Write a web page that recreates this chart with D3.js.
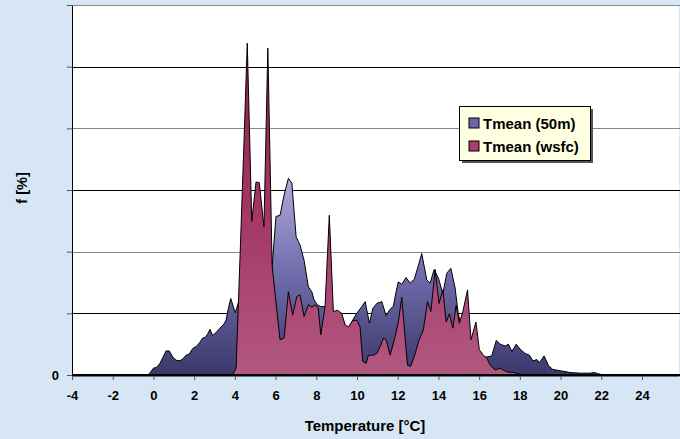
<!DOCTYPE html>
<html><head><meta charset="utf-8">
<script src="https://cdn.jsdelivr.net/npm/d3@7"></script>
<style>html,body{margin:0;padding:0;background:#d7e6f5;}svg{display:block;}</style>
</head><body>
<script>
// ---- data ----
const seriesNames = ["Tmean (50m)", "Tmean (wsfc)"];
const xTicks = [-4,-2,0,2,4,6,8,10,12,14,16,18,20,22,24];
const yTicks = [0,1,2,3,4,5,6];
const yTickLabels = ["0","","","","","",""];
// [temperature °C, f %] for Tmean (50m)
const tmean50m = [[-0.25,0],[0.0,0.11],[0.16,0.125],[0.32,0.19],[0.49,0.30],[0.62,0.39],[0.78,0.39],[0.95,0.29],[1.11,0.24],[1.31,0.23],[1.47,0.27],[1.60,0.32],[1.76,0.34],[1.93,0.43],[2.09,0.46],[2.26,0.52],[2.42,0.60],[2.55,0.61],[2.67,0.67],[2.78,0.74],[2.91,0.64],[3.08,0.69],[3.27,0.76],[3.47,0.83],[3.57,0.89],[3.68,1.08],[3.80,1.24],[3.93,1.10],[4.02,1.01],[4.2,1.2],[4.4,1.5],[4.6,1.8],[4.8,2.0],[5.0,2.1],[5.2,2.1],[5.4,2.0],[5.6,1.8],[5.83,1.75],[6.02,2.57],[6.22,2.59],[6.42,2.92],[6.63,3.19],[6.80,3.11],[7.01,2.24],[7.20,2.11],[7.40,1.86],[7.61,1.43],[7.78,1.35],[7.89,1.22],[8.05,1.14],[8.22,1.11],[8.38,1.11],[8.63,1.07],[8.84,1.0],[9.04,1.0],[9.25,0.95],[9.42,0.78],[9.58,0.76],[9.79,0.89],[9.99,1.0],[10.24,1.11],[10.40,1.19],[10.61,0.84],[10.78,1.08],[10.97,1.16],[11.22,1.19],[11.43,0.96],[11.59,1.05],[11.79,1.12],[11.92,1.35],[12.03,1.51],[12.20,1.47],[12.41,1.58],[12.61,1.49],[12.81,1.55],[13.02,1.78],[13.18,1.97],[13.43,1.54],[13.59,1.49],[13.79,1.71],[14.00,1.57],[14.22,1.32],[14.41,1.65],[14.61,1.73],[14.82,1.41],[14.97,1.0],[15.2,0.7],[15.4,0.6],[15.6,0.45],[15.8,0.4],[16.0,0.33],[16.34,0.29],[16.62,0.31],[16.84,0.56],[17.03,0.50],[17.28,0.47],[17.44,0.50],[17.61,0.38],[17.82,0.50],[18.01,0.42],[18.26,0.35],[18.47,0.32],[18.64,0.23],[18.84,0.25],[18.96,0.20],[19.19,0.31],[19.41,0.15],[19.62,0.09],[19.98,0.07],[20.47,0.04],[20.96,0.03],[21.45,0.03],[21.65,0.04],[21.86,0.02],[22.09,0]];
// [temperature °C, f %] for Tmean (wsfc)
const tmeanWsfc = [[3.89,0],[4.06,0.11],[4.26,1.97],[4.44,3.70],[4.61,5.38],[4.83,2.49],[5.04,3.13],[5.20,3.12],[5.43,2.40],[5.62,5.30],[5.83,1.78],[6.02,1.18],[6.22,0.57],[6.42,0.60],[6.63,1.35],[6.84,0.97],[7.04,1.27],[7.20,1.30],[7.40,0.95],[7.61,1.14],[7.78,1.10],[7.94,1.14],[8.10,1.08],[8.22,0.65],[8.43,1.11],[8.64,2.59],[8.84,1.03],[9.04,1.05],[9.25,1.0],[9.42,0.81],[9.58,0.78],[9.79,0.88],[9.99,0.89],[10.15,0.78],[10.28,0.22],[10.45,0.19],[10.56,0.32],[10.81,0.32],[10.97,0.35],[11.14,0.46],[11.30,0.60],[11.43,0.57],[11.63,0.32],[11.87,0.62],[12.03,0.86],[12.20,1.26],[12.36,0.62],[12.48,0.16],[12.64,0.14],[12.86,0.35],[13.05,0.57],[13.26,0.73],[13.46,1.19],[13.63,1.03],[13.84,1.71],[14.03,1.16],[14.22,1.38],[14.38,0.86],[14.54,0.99],[14.71,0.76],[14.87,1.13],[15.03,0.84],[15.20,1.03],[15.43,1.38],[15.60,0.57],[15.84,0.86],[16.01,0.41],[16.21,0.32],[16.38,0.27],[16.54,0.16],[16.79,0.08],[17.03,0.11],[17.36,0.05],[17.69,0.04],[17.93,0.02],[18.06,0]];

// ---- layout ----
const W = 680, H = 439;
const m = {left:72, top:5, right:1, bottom:64};
const svg = d3.select("body").append("svg").attr("width", W).attr("height", H);
const FONT = "Arial, 'Liberation Sans', sans-serif";

const x = d3.scaleLinear().domain([-4, -4 + (W - m.right - m.left) / 20.357]).range([m.left, W - m.right]);
const y = d3.scaleLinear().domain([0, 6]).range([H - m.bottom, m.top]);

const defs = svg.append("defs");
function grad(id, stops){
  const g = defs.append("linearGradient").attr("id", id).attr("x1",0).attr("y1",0).attr("x2",0).attr("y2",1);
  stops.forEach(s => g.append("stop").attr("offset", s[0]).attr("stop-color", s[1]));
}
grad("gBlue", [[0,"#aeaad8"],[0.45,"#7470b0"],[1,"#3a386b"]]);
grad("gRed", [[0,"#93204f"],[0.5,"#a33665"],[1,"#b25880"]]);

// plot background
svg.append("rect").attr("x", m.left).attr("y", m.top).attr("width", W - m.right - m.left).attr("height", y(0) - m.top).attr("fill", "#fff");

// gridlines
svg.append("g").selectAll("line").data(yTicks.filter(d => d > 0)).join("line")
  .attr("x1", m.left).attr("x2", W).attr("y1", d => Math.round(y(d)) + 0.5).attr("y2", d => Math.round(y(d)) + 0.5)
  .attr("stroke", (d,i) => i % 2 ? "#888" : "#000").attr("stroke-width", 1);

// areas
const area = d3.area().x(d => x(d[0])).y0(y(0)).y1(d => y(d[1])).curve(d3.curveLinear);
svg.append("path").datum(tmean50m).attr("d", area).attr("fill", "url(#gBlue)").attr("stroke", "#000").attr("stroke-width", 1).attr("stroke-linejoin","round");
svg.append("path").datum(tmeanWsfc).attr("d", area).attr("fill", "url(#gRed)").attr("stroke", "#000").attr("stroke-width", 1).attr("stroke-linejoin","round");

// axes
const xAxis = svg.append("g").attr("transform", `translate(0,${y(0)})`)
  .call(d3.axisBottom(x).tickValues(xTicks).tickFormat(d => String(d)).tickSize(5).tickSizeOuter(0).tickPadding(11));
xAxis.select(".domain").attr("stroke", "#000").attr("stroke-width", 2);
xAxis.selectAll(".tick line").attr("stroke", "#555");
xAxis.selectAll("text").attr("font-family", FONT).attr("font-weight", "bold").attr("font-size", 13).attr("fill", "#000");

const yAxis = svg.append("g").attr("transform", `translate(${m.left},0)`)
  .call(d3.axisLeft(y).tickValues(yTicks).tickFormat((d,i) => yTickLabels[i]).tickSize(5).tickSizeOuter(0).tickPadding(8));
yAxis.select(".domain").attr("stroke", "#000").attr("stroke-width", 1);
yAxis.selectAll(".tick line").attr("stroke", "#555");
yAxis.selectAll("text").attr("font-family", FONT).attr("font-weight", "bold").attr("font-size", 13).attr("fill", "#000");
// redraw x baseline on top
svg.append("line").attr("x1", m.left).attr("x2", W).attr("y1", y(0)).attr("y2", y(0)).attr("stroke", "#000").attr("stroke-width", 2);

// titles
svg.append("text").attr("x", 365).attr("y", 431).attr("text-anchor", "middle")
  .attr("font-family", FONT).attr("font-weight", "bold").attr("font-size", 15).text("Temperature [°C]");
svg.append("text").attr("transform", "translate(27,188) rotate(-90)").attr("text-anchor", "middle")
  .attr("font-family", FONT).attr("font-weight", "bold").attr("font-size", 14.5).text("f [%]");

// legend
const lg = svg.append("g").attr("transform", "translate(459,106)");
lg.append("rect").attr("x", 3).attr("y", 3).attr("width", 131).attr("height", 54).attr("fill", "#555");
lg.append("rect").attr("x", 0.5).attr("y", 0.5).attr("width", 131).attr("height", 54).attr("fill", "#ffffe1").attr("stroke", "#000");
const swatchFill = ["#6a67a8", "#a8406d"];
const items = lg.selectAll("g.item").data(seriesNames).join("g").attr("class","item")
  .attr("transform", (d,i) => `translate(10,${12 + i*23})`);
items.append("rect").attr("width", 10).attr("height", 10).attr("fill", (d,i) => swatchFill[i]).attr("stroke", "#000");
items.append("text").attr("x", 14).attr("y", 10.5).attr("font-family", FONT).attr("font-weight", "bold").attr("font-size", 15).text(d => d);
</script>
</body></html>
